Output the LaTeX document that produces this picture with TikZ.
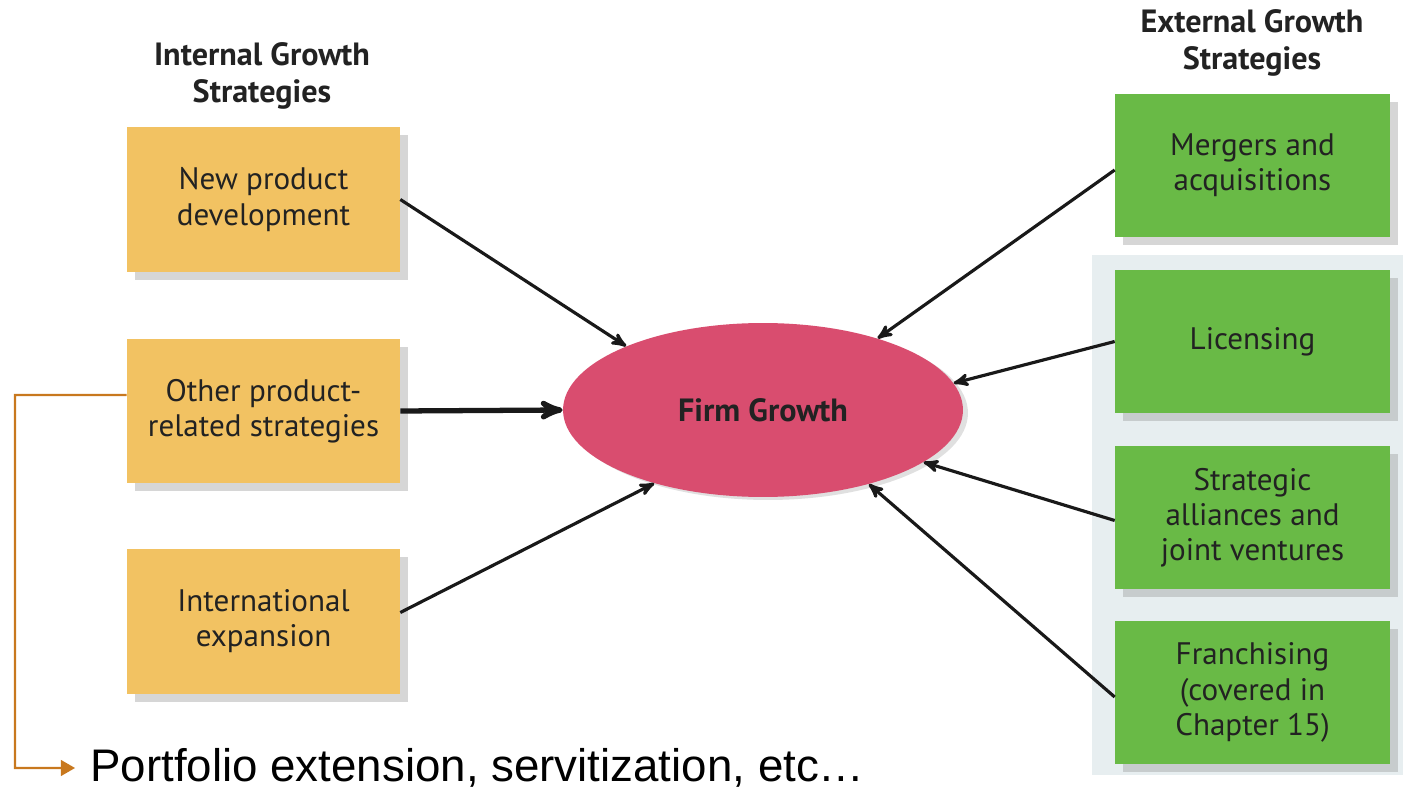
\documentclass[tikz,border=0pt]{standalone}
\usepackage{fontspec}
\setmainfont{PT Sans}
\newfontfamily\slidefont{Liberation Sans}
\usepackage{xcolor}
\usetikzlibrary{arrows}
\usetikzlibrary{shapes.geometric}
\usetikzlibrary{shadows}
\definecolor{intyellow}{HTML}{F2C262}
\definecolor{extgreen}{HTML}{69BA46}
\definecolor{firmpink}{HTML}{D94D6F}
\definecolor{panelblue}{HTML}{E7EEF0}
\definecolor{linkorange}{HTML}{C8781E}
\definecolor{inktext}{HTML}{222222}

\begin{document}
\begin{tikzpicture}[x=0.02cm, y=-0.02cm, >=stealth',
  boxtext/.style={align=center, text=inktext, font=\fontsize{17.7}{20}\selectfont},
  headtext/.style={align=center, text=inktext, font=\bfseries\fontsize{18.3}{21}\selectfont},
  intbox/.style={boxtext, fill=intyellow, minimum width=5.46cm, minimum height=2.9cm,
    drop shadow={shadow xshift=0.16cm, shadow yshift=-0.16cm, fill=black!40, opacity=0.4}},
  extbox/.style={boxtext, fill=extgreen, minimum width=5.5cm, minimum height=2.88cm,
    drop shadow={shadow xshift=0.16cm, shadow yshift=-0.16cm, fill=black!40, opacity=0.4}},
  feed/.style={->, draw=black!90, line width=1.8pt}]
\useasboundingbox (0,0) rectangle (1403,793);
% panel behind the lower external boxes
\fill[panelblue] (1092,255) rectangle (1403,775);
\node[headtext] (ihead) at (262,76) {Internal Growth\\Strategies};
\node[headtext] (ehead) at (1252,43) {External Growth\\Strategies};
\node[intbox] (npd) at (263.5,199.5) {New product\\development};
\node[intbox] (oprs) at (263.5,411) {Other product-\\related strategies};
\node[intbox] (intl) at (263.5,621.5) {International\\expansion};
\node[extbox] (mna) at (1252.5,165.5) {Mergers and\\acquisitions};
\node[extbox] (lic) at (1252.5,341.5) {Licensing};
\node[extbox] (sajv) at (1252.5,517.5) {Strategic\\alliances and\\joint ventures};
\node[extbox] (fran) at (1252.5,692.5) {Franchising\\(covered in\\Chapter 15)};
\node[ellipse, fill=firmpink, minimum width=8cm, minimum height=3.48cm, inner sep=0pt,
  headtext, drop shadow={shadow xshift=0.1cm, shadow yshift=-0.06cm, fill=black!40, opacity=0.3}]
  (fg) at (763,410) {Firm Growth};
\node[anchor=west, inner sep=0pt, font=\slidefont\fontsize{26}{30}\selectfont] (pfx) at (90,768)
  {Portfolio extension, servitization, etc\ldots};
\draw[feed] (npd.east) -- (fg.155);
\draw[feed, line width=3pt] (oprs.east) -- (fg.west);
\draw[feed] ([yshift=0.18cm]intl.east) -- (fg.214);
\draw[feed] ([yshift=-0.09cm]mna.west) -- (fg.32);
\draw[feed] (lic.west) -- (fg.8);
\draw[feed] ([yshift=-0.06cm]sajv.west) -- (fg.-18);
\draw[feed] ([yshift=-0.09cm]fran.west) -- (fg.-35);
\draw[-triangle 60, linkorange, line width=1.2pt] ([yshift=0.32cm]oprs.west) -- (15,395) |- ([xshift=-0.3cm]pfx.west);
\end{tikzpicture}
\end{document}
